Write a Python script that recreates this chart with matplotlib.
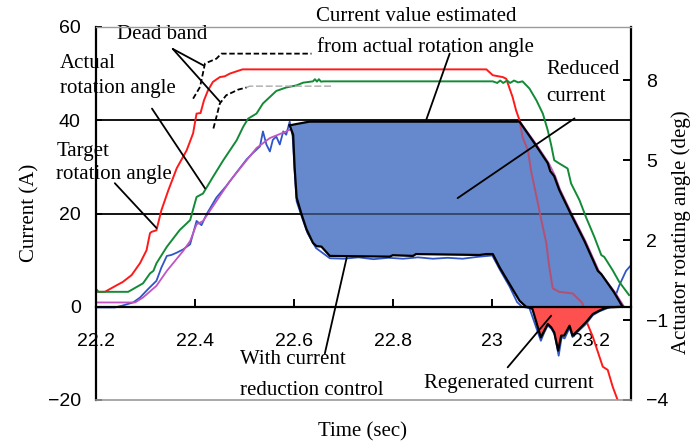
import numpy as np
import matplotlib
matplotlib.use('Agg')
import matplotlib.pyplot as plt

serif = 'Liberation Serif'
sans = 'Liberation Sans'

# ---- data (time in sec, angle in deg, current in A) ----
t_target = [22.201, 22.218, 22.242, 22.254, 22.272, 22.289, 22.302, 22.309, 22.312, 22.322,
            22.332, 22.346, 22.363, 22.383, 22.396, 22.403, 22.411, 22.418, 22.426, 22.436,
            22.45, 22.46, 22.47, 22.486, 22.496, 22.988, 23.001, 23.021, 23.028, 23.041,
            23.048, 23.055, 23.061, 23.072, 23.078, 23.085, 23.092, 23.099, 23.109, 23.115,
            23.122, 23.135, 23.162, 23.176, 23.182, 23.189, 23.203, 23.223, 23.233, 23.243,
            23.253, 23.26]
ang_target = [0.06, 0.06, 0.31, 0.43, 0.69, 1.14, 1.62, 2.26, 2.31, 2.37,
              3.12, 3.87, 4.7, 5.37, 6.01, 6.75, 6.77, 7.25, 7.62, 7.94,
              8.12, 8.15, 8.25, 8.35, 8.41, 8.41, 8.19, 8.12, 8.06, 7.37,
              6.87, 6.5, 5.87, 5.37, 4.62, 4.0, 3.39, 2.75, 1.89, 1.0,
              0.19, 0.06, 0.0, -0.25, -0.37, -1.0, -1.63, -2.75, -2.87, -3.5,
              -4.0, -4.56]

t_actual = [22.201, 22.205, 22.265, 22.295, 22.309, 22.316, 22.322, 22.343, 22.369, 22.39,
            22.403, 22.416, 22.436, 22.457, 22.484, 22.497, 22.507, 22.524, 22.537, 22.564,
            22.584, 22.605, 22.618, 22.638, 22.642, 22.646, 22.65, 22.654, 22.66, 23.001,
            23.01, 23.016, 23.022, 23.03, 23.036, 23.044, 23.052, 23.061, 23.075, 23.089,
            23.102, 23.112, 23.119, 23.125, 23.135, 23.152, 23.159, 23.176, 23.189, 23.206,
            23.22, 23.226, 23.243, 23.256, 23.276]
ang_actual = [0.15, 0.06, 0.06, 0.38, 0.75, 0.85, 1.13, 1.75, 2.38, 2.75,
              3.62, 3.75, 4.37, 5.0, 5.75, 6.25, 6.56, 6.75, 7.13, 7.6,
              7.73, 7.81, 7.91, 7.96, 8.04, 7.95, 8.04, 7.95, 7.96, 7.96,
              7.9, 7.99, 7.9, 7.99, 7.9, 7.99, 7.92, 7.96, 7.69, 7.25,
              6.75, 6.12, 5.56, 5.0, 4.88, 4.69, 4.13, 3.5, 2.87, 2.12,
              1.44, 1.37, 0.87, 0.44, -0.06]

t_db_up = [22.396, 22.41, 22.42, 22.443, 22.453, 22.635]
ang_db_up = [7.31, 7.75, 8.63, 8.81, 9.0, 9.0]
t_db_lo = [22.437, 22.443, 22.45, 22.463, 22.477, 22.487, 22.504]
ang_db_lo = [6.19, 6.62, 7.13, 7.44, 7.56, 7.65, 7.73]
t_db_lo2 = [22.504, 22.51, 22.678]
ang_db_lo2 = [7.73, 7.78, 7.78]

t_meas = [22.201, 22.238, 22.252, 22.275, 22.289, 22.305, 22.322, 22.332, 22.343, 22.352,
          22.363, 22.376, 22.39, 22.403, 22.413, 22.423, 22.443, 22.463, 22.483, 22.504,
          22.517, 22.531, 22.537, 22.544, 22.551, 22.557, 22.564, 22.571, 22.578, 22.584,
          22.591, 22.597, 22.601, 22.605, 22.617, 22.627, 22.644, 22.672, 22.7, 22.73,
          22.76, 22.79, 22.82, 22.85, 22.88, 22.91, 22.94, 22.97, 23.0, 23.015,
          23.035, 23.05, 23.06, 23.075, 23.098, 23.105, 23.112, 23.12, 23.126, 23.134,
          23.14, 23.146, 23.156, 23.162, 23.176, 23.19, 23.203, 23.216, 23.23, 23.24,
          23.243, 23.256, 23.27, 23.279]
cur_meas = [-0.15, -0.15, 0.21, 0.92, 1.99, 3.78, 5.56, 8.4, 10.9, 11.1,
            11.6, 12.3, 13.4, 18.4, 17.5, 19.8, 23.4, 25.9, 28.7, 31.6,
            33.0, 34.4, 37.6, 34.8, 33.3, 35.8, 36.5, 34.8, 37.6, 36.9,
            39.7, 36.5, 29.1, 22.6, 18.8, 15.8, 12.6, 10.4, 10.3, 10.6,
            10.2, 10.5, 10.3, 10.6, 10.3, 10.5, 10.3, 10.7, 11.0, 8.0,
            4.3, 1.0, 0.0, -0.3, -7.3, -5.5, -4.0, -4.8, -6.0, -10.5,
            -6.5, -6.8, -4.5, -6.5, -5.0, -3.6, -1.8, -1.0, -0.4, 0.0,
            0.58, 4.5, 7.7, 8.8]

t_pink = [22.201, 22.279, 22.295, 22.322, 22.343, 22.376, 22.39, 22.403, 22.416, 22.443,
          22.47, 22.497, 22.524, 22.551, 22.584, 22.605, 22.621, 22.64, 23.055, 23.087,
          23.114, 23.127, 23.137, 23.161, 23.188, 23.215, 23.248, 23.266]
cur_pink = [0.92, 0.92, 1.99, 4.49, 7.69, 11.97, 14.1, 17.67, 18.38, 22.65,
            26.92, 30.49, 34.04, 36.18, 37.6, 38.68, 39.5, 39.8, 39.8, 35.1,
            30.8, 28.0, 25.1, 19.8, 14.1, 7.7, 3.06, 0.0]

t_est = [22.591, 22.605, 22.631, 23.055, 23.085, 23.112, 23.117, 23.125, 23.135, 23.159,
         23.186, 23.213, 23.22, 23.246, 23.263]
cur_est = [38.9, 39.2, 39.7, 39.7, 35.1, 30.8, 29.1, 28.0, 25.1, 19.8,
           14.1, 7.7, 7.0, 3.06, 0.0]

t_red = [22.591, 22.598, 22.601, 22.605, 22.615, 22.625, 22.638, 22.645, 22.655, 22.672,
         22.793, 22.799, 22.84, 22.846, 22.974, 22.988, 23.001, 23.015, 23.035, 23.055,
         23.068, 23.075, 23.081, 23.098, 23.105, 23.112, 23.119, 23.125, 23.133, 23.139,
         23.145, 23.156, 23.162, 23.176, 23.189, 23.203, 23.216, 23.226, 23.233, 23.263]
cur_red = [38.9, 36.9, 29.8, 23.4, 19.8, 16.6, 13.7, 13.0, 12.9, 10.9,
           10.75, 11.05, 10.9, 11.3, 11.1, 11.3, 11.3, 8.4, 4.85, 1.28,
           0.0, -0.15, -0.49, -6.56, -5.13, -3.7, -4.42, -5.49, -9.4, -6.2,
           -6.2, -4.06, -6.2, -4.76, -3.35, -1.56, -0.85, -0.36, -0.15, 0.0]

xticks = [22.2, 22.4, 22.6, 22.8, 23.0, 23.2]
xtick_labels = ['22.2', '22.4', '22.6', '22.8', '23', '23.2']
yticks_cur = [-20, 0, 20, 40, 60]
yticks_ang = [-4, -1, 2, 5, 8]

# colours
c_red = '#ff1a1a'
c_green = '#138a36'
c_blue = '#2f55c8'
c_pink = '#c055c0'
c_fill = '#6688cc'
c_regen = '#ff5050'

fig = plt.figure(figsize=(6.97, 4.47), dpi=100, facecolor='white')
ax1 = fig.add_axes([96/697, 1-400/447, (631-96)/697, (400-27)/447])
ax2 = ax1.twinx()
ax1.set_xlim(22.2, 23.28)
ax1.set_ylim(-20, 60)
ax2.set_ylim(-4, 10)
ax1.set_autoscale_on(False)

# currents (left axis)
ax1.plot(t_meas, cur_meas, color=c_blue, lw=1.3, zorder=1.5)
ax1.plot(t_pink, cur_pink, color=c_pink, lw=1.3, zorder=1.6)

red_pos = np.maximum(np.array(cur_red), 0)
poly_x = list(t_est) + list(t_red[::-1])
poly_y = list(cur_est) + list(red_pos[::-1])
ax1.fill(poly_x, poly_y, color=c_fill, lw=0, zorder=2)

ax1.axhline(40, color='black', lw=1.3, zorder=2.2)
ax1.axhline(20, color='black', lw=1.3, zorder=2.2)

# angles (right axis scale, drawn in ax1 so the fill can sit over them)
ang = ax2.transData
ax1.plot(t_target, ang_target, color=c_red, lw=1.4, zorder=2.5, transform=ang)
ax1.plot(t_actual, ang_actual, color=c_green, lw=1.4, zorder=2.5, transform=ang)
ax1.plot(t_db_up, ang_db_up, color='black', lw=1.3, ls=(0, (3, 1.5)), zorder=2.5, transform=ang)
ax1.plot(t_db_lo, ang_db_lo, color='black', lw=1.3, ls=(0, (3, 1.5)), zorder=2.5, transform=ang)
ax1.plot(t_db_lo2, ang_db_lo2, color='#aaaaaa', lw=1.0, ls=(0, (5, 2)), zorder=2.5, transform=ang)

# veil so lines under the reduced-current area look muted
ax1.fill(poly_x, poly_y, color=c_fill, alpha=0.5, lw=0, zorder=3)

red_neg = np.minimum(np.array(cur_red), 0)
ax1.fill_between(t_red, red_neg, 0, color=c_regen, lw=0, zorder=3.2)

ax1.plot(t_est, cur_est, color='black', lw=1.6, zorder=4)
ax1.plot(t_red, cur_red, color='black', lw=1.6, zorder=4)

# axes styling
for s in ['top', 'right']:
    ax1.spines[s].set_visible(False)
ax1.spines['left'].set_linewidth(1.6)
ax1.spines['bottom'].set_position(('data', 0))
ax1.spines['bottom'].set_linewidth(1.6)
ax1.spines['bottom'].set_zorder(4.5)
ax2.spines['left'].set_visible(False)
ax2.spines['right'].set_linewidth(1.6)
ax2.spines['top'].set_color('#9a9a9a')
ax2.spines['bottom'].set_color('#9a9a9a')
ax2.spines['top'].set_linewidth(1.0)
ax2.spines['bottom'].set_linewidth(1.2)

ax1.set_xticks(xticks)
ax1.set_xticklabels(xtick_labels, family=sans, fontsize=14)
ax1.set_yticks(yticks_cur)
ax1.set_yticklabels([str(v).replace('-', '\u2212') for v in yticks_cur], family=sans, fontsize=14)
ax2.set_yticks(yticks_ang)
ax2.set_yticklabels([str(v).replace('-', '\u2212') for v in yticks_ang], family=sans, fontsize=14)
ax1.tick_params(axis='x', direction='in', length=6, width=1.4, pad=19)
ax1.tick_params(axis='y', direction='in', length=4, width=1.4, pad=11)
ax2.tick_params(axis='y', direction='in', length=6, width=1.4, pad=11)

fig.text(30/697, 1-213/447, 'Current (A)', rotation=90, family=serif, fontsize=15,
         ha='center', va='center')
fig.text(681/697, 1-232/447, 'Actuator rotating angle (deg)', rotation=90, family=serif,
         fontsize=15, ha='center', va='center')
fig.text(362/697, 1-432/447, 'Time (sec)', family=serif, fontsize=15, ha='center', va='center')

# annotation text
notes = [
    (22.242, 58.3, 'Dead band'),
    (22.127, 52.1, 'Actual'),
    (22.127, 46.8, 'rotation angle'),
    (22.121, 33.3, 'Target'),
    (22.119, 28.4, 'rotation angle'),
    (22.644, 62.2, 'Current value estimated'),
    (22.646, 55.8, 'from actual rotation angle'),
    (23.109, 50.9, 'Reduced'),
    (23.109, 45.1, 'current'),
    (22.49, -11.3, 'With current'),
    (22.49, -18.0, 'reduction control'),
    (22.863, -16.5, 'Regenerated current'),
]
for x, y, s in notes:
    ax1.text(x, y, s, family=serif, fontsize=15, ha='left', va='center', zorder=6, clip_on=False)

leaders = [
    ((22.355, 55.3), (22.418, 51.7)),
    ((22.355, 55.3), (22.45, 44.0)),
    ((22.313, 42.5), (22.42, 25.4)),
    ((22.238, 26.5), (22.322, 16.9)),
    ((22.914, 54.3), (22.867, 40.2)),
    ((23.166, 40.4), (22.93, 23.3)),
    ((22.706, 10.5), (22.662, -10.0)),
    ((23.031, -13.0), (23.119, -1.9)),
]
for (x0, y0), (x1, y1) in leaders:
    ax1.annotate('', xy=(x1, y1), xytext=(x0, y0), zorder=6, annotation_clip=False,
                 arrowprops=dict(arrowstyle='-', color='black', lw=1.3, shrinkA=0, shrinkB=0))

fig.savefig('out.png', dpi=100, facecolor='white')
